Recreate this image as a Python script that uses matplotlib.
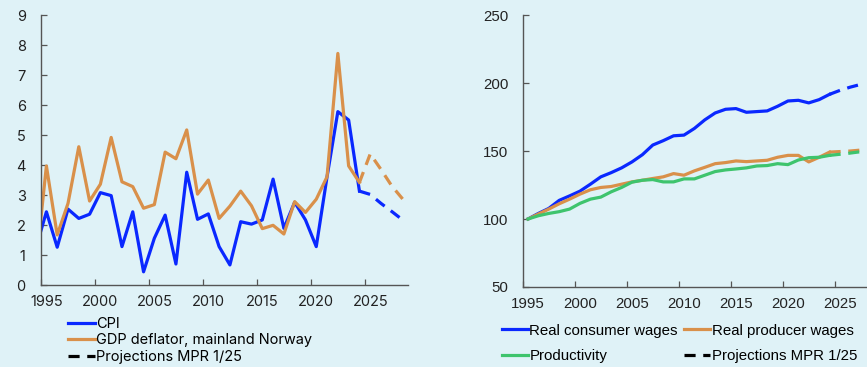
import matplotlib
matplotlib.use("Agg")
import matplotlib.pyplot as plt
import numpy as np
from matplotlib.lines import Line2D

# ---- left panel: inflation, annual change (first value 1994 is clipped by xlim)
infl_years = np.arange(1994, 2025)
cpi = [1.2, 2.44, 1.26, 2.53, 2.22, 2.36, 3.08, 2.98, 1.28, 2.44, 0.44,
       1.56, 2.33, 0.7, 3.76, 2.19, 2.37, 1.28, 0.67, 2.11, 2.03,
       2.17, 3.53, 1.89, 2.76, 2.17, 1.28, 3.61, 5.78, 5.5, 3.13]
deflator = [0.55, 3.97, 1.67, 2.72, 4.61, 2.8, 3.36, 4.92, 3.44, 3.28, 2.56,
            2.68, 4.43, 4.21, 5.17, 3.03, 3.5, 2.22, 2.63, 3.13, 2.64,
            1.88, 1.99, 1.7, 2.78, 2.42, 2.86, 3.61, 7.72, 3.97, 3.42]
infl_proj_years = np.arange(2024, 2029)
cpi_proj = [3.13, 3.02, 2.72, 2.45, 2.17]
deflator_proj = [3.42, 4.37, 3.85, 3.3, 2.87]

# ---- right panel: index 1995 = 100
wage_years = np.arange(1995, 2025)
consumer_wages = [100, 104.1, 107.8, 113.7, 117, 120.5, 125.6, 131, 134.1, 137.6,
                  142, 147.3, 154.4, 157.6, 161.2, 161.7, 166.6, 172.9, 178, 180.7,
                  181.2, 178.5, 179, 179.5, 182.9, 186.8, 187.3, 185.4, 187.8, 191.7]
producer_wages = [100, 103.7, 107.3, 111.2, 114.6, 118.3, 121.5, 123.2, 123.9, 125.6,
                  127.3, 128.5, 129.8, 131, 133.4, 132.2, 135.4, 138, 140.7, 141.5,
                  142.7, 142.2, 142.7, 143.2, 145.4, 146.8, 146.8, 142, 145.4, 149.2]
productivity = [100, 102.4, 104.1, 105.4, 107.3, 111.5, 114.6, 116.1, 120, 123.2,
                127.1, 128.5, 129, 127.3, 127.3, 129.5, 129.5, 132.2, 134.9, 136.1,
                136.8, 137.6, 139, 139.3, 140.7, 140, 143.4, 145.1, 145.4, 146.8]
wage_proj_years = np.arange(2024, 2028)
consumer_proj = [191.7, 194.6, 197, 199]
producer_proj = [149.2, 149.6, 150, 150.7]
productivity_proj = [146.8, 147.6, 148.5, 149.5]

BG = "#dff2f7"
BLUE = "#0a28ff"
ORANGE = "#d9904a"
GREEN = "#3ec46d"
SPINE = "#555555"
LW = 2.3
DASH = (8, 5.5)

plt.rcParams["lines.scale_dashes"] = False

fig = plt.figure(figsize=(8.67, 3.67), dpi=100, facecolor=BG)
ax1 = fig.add_axes([0.0473, 0.2234, 0.4233, 0.7356], facecolor=BG)
ax2 = fig.add_axes([0.603, 0.218, 0.397, 0.741], facecolor=BG)


def style_axis(ax, font, size, ypad):
    for side in ("top", "right"):
        ax.spines[side].set_visible(False)
    for side in ("left", "bottom"):
        ax.spines[side].set_color(SPINE)
        ax.spines[side].set_linewidth(1.0)
    # tick marks on whole years, labels centred on the middle of the year
    ax.set_xticks(np.arange(1995, 2030, 5))
    ax.set_xticks(np.arange(1995, 2030, 5) + 0.5, minor=True)
    ax.set_xticklabels(np.arange(1995, 2030, 5), minor=True, family=font, fontsize=size)
    ax.tick_params(axis="x", which="major", direction="in", length=4, width=0.9,
                   color=SPINE, labelbottom=False)
    ax.tick_params(axis="x", which="minor", length=0, pad=7, colors="#222222")
    ax.tick_params(axis="y", direction="in", length=4, width=0.9, color=SPINE,
                   pad=ypad, labelcolor="#222222")
    for lab in ax.get_yticklabels():
        lab.set_family(font)
        lab.set_fontsize(size)


# left panel
ax1.plot(infl_years + 0.5, cpi, color=BLUE, lw=LW)
ax1.plot(infl_years + 0.5, deflator, color=ORANGE, lw=LW)
ax1.plot(infl_proj_years + 0.5, cpi_proj, color=BLUE, lw=LW, dashes=DASH)
ax1.plot(infl_proj_years + 0.5, deflator_proj, color=ORANGE, lw=LW, dashes=DASH)
ax1.set_xlim(1995, 2029)
ax1.set_ylim(0, 9)
ax1.set_yticks(range(0, 10))
style_axis(ax1, "Inter", 10.5, 11)

left_handles = [
    Line2D([], [], color=BLUE, lw=LW),
    Line2D([], [], color=ORANGE, lw=LW),
    Line2D([], [], color="black", lw=LW, dashes=DASH),
]
fig.legend(left_handles, ["CPI", "GDP deflator, mainland Norway", "Projections MPR 1/25"],
           loc="upper left", bbox_to_anchor=(0.078, 0.137), frameon=False,
           borderpad=0, borderaxespad=0, handlelength=1.85, handletextpad=0.1,
           labelspacing=0.18, prop={"family": "Inter", "size": 10.5})

# right panel
ax2.plot(wage_years + 0.5, consumer_wages, color=BLUE, lw=LW)
ax2.plot(wage_years + 0.5, producer_wages, color=ORANGE, lw=LW)
ax2.plot(wage_years + 0.5, productivity, color=GREEN, lw=LW)
ax2.plot(wage_proj_years + 0.5, consumer_proj, color=BLUE, lw=LW, dashes=DASH)
ax2.plot(wage_proj_years + 0.5, producer_proj, color=ORANGE, lw=LW, dashes=DASH)
ax2.plot(wage_proj_years + 0.5, productivity_proj, color=GREEN, lw=LW, dashes=DASH)
ax2.set_xlim(1995, 2028.1)
ax2.set_ylim(50, 250)
ax2.set_yticks(range(50, 251, 50))
style_axis(ax2, "Liberation Sans", 10.8, 10.5)

right_handles = [
    Line2D([], [], color=BLUE, lw=LW),
    Line2D([], [], color=GREEN, lw=LW),
    Line2D([], [], color=ORANGE, lw=LW),
    Line2D([], [], color="black", lw=LW, dashes=DASH),
]
fig.legend(right_handles, ["Real consumer wages", "Productivity",
                           "Real producer wages", "Projections MPR 1/25"],
           loc="upper left", bbox_to_anchor=(0.5787, 0.118), ncol=2, frameon=False,
           borderpad=0, borderaxespad=0, handlelength=1.75, handletextpad=0.1,
           labelspacing=0.75, columnspacing=0.4,
           prop={"family": "Liberation Sans", "size": 10.8})

fig.savefig("out.png", dpi=100, facecolor=BG)
